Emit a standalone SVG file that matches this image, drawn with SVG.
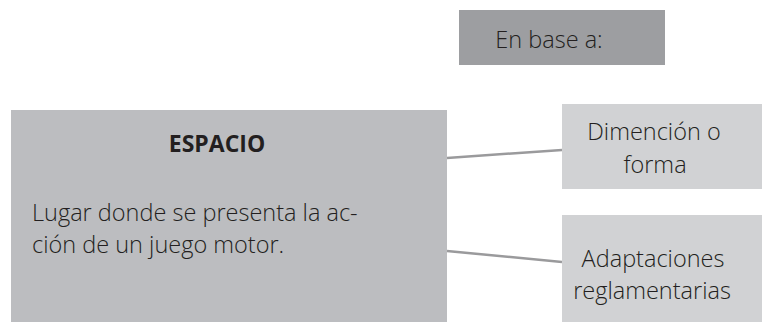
<svg xmlns="http://www.w3.org/2000/svg" width="762" height="322" viewBox="0 0 762 322">
<style>
text{font-family:"Open Sans","Noto Sans","Liberation Sans",sans-serif;fill:#231f20;font-size:23.5px;font-weight:300}
.c{text-anchor:middle}
.b{font-weight:700;font-size:23px}
.ln{stroke:#9a9a9c;stroke-width:2.5;fill:none}
</style>
<rect width="762" height="322" fill="#ffffff"/>
<g id="header">
<rect x="459" y="10" width="206" height="55" fill="#9d9ea1"/>
<text x="549" y="48" class="c">En base a:</text>
</g>
<g id="connectors">
<line class="ln" x1="447" y1="158" x2="562" y2="150"/>
<line class="ln" x1="447" y1="251" x2="562" y2="262"/>
</g>
<g id="espacio">
<rect x="11" y="110" width="436" height="212" fill="#bcbdc0"/>
<text x="217" y="152" class="c b">ESPACIO</text>
<text x="32" y="221">Lugar donde se presenta la ac-</text>
<text x="32" y="253">ción de un juego motor.</text>
</g>
<g id="dimencion">
<rect x="562" y="104" width="200" height="85" fill="#d1d2d4"/>
<text x="654" y="140" class="c">Dimención o</text>
<text x="655" y="173" class="c">forma</text>
</g>
<g id="adaptaciones">
<rect x="562" y="215" width="200" height="107" fill="#d1d2d4"/>
<text x="653" y="267" class="c">Adaptaciones</text>
<text x="652" y="299" class="c">reglamentarias</text>
</g>
</svg>
